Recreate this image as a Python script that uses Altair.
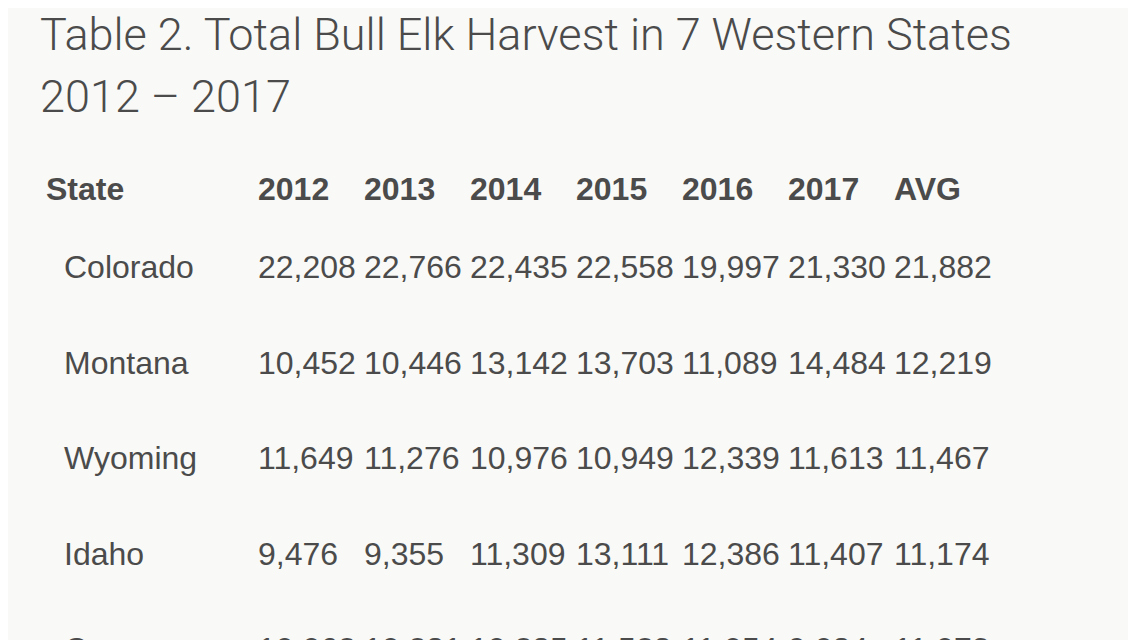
import altair as alt
import pandas as pd

title_lines = ["Table 2. Total Bull Elk Harvest in 7 Western States", "2012 – 2017"]
columns = ["2012", "2013", "2014", "2015", "2016", "2017", "AVG"]
header_first = "State"
states = ["Colorado", "Montana", "Wyoming", "Idaho", "Oregon"]
colorado = [22208, 22766, 22435, 22558, 19997, 21330, 21882]
montana = [10452, 10446, 13142, 13703, 11089, 14484, 12219]
wyoming = [11649, 11276, 10976, 10949, 12339, 11613, 11467]
idaho = [9476, 9355, 11309, 13111, 12386, 11407, 11174]
oregon = [10062, 10281, 10285, 11528, 11054, 9084, 11073]
values = [colorado, montana, wyoming, idaho, oregon]

# column order (the gap keeps the wide first column)
x_domain = [header_first, "_gap"] + columns
y_domain = [header_first] + states

header_df = pd.DataFrame({"col": [header_first] + columns,
                          "row": [header_first] * (len(columns) + 1),
                          "label": [header_first] + columns})
state_df = pd.DataFrame({"col": [header_first] * len(states), "row": states, "label": states})
rows = []
for s, vals in zip(states, values):
    for c, v in zip(columns, vals):
        rows.append({"col": c, "row": s, "value": v})
val_df = pd.DataFrame(rows)
title_df = pd.DataFrame({"label": ["\n".join(title_lines)]})

TEXT = "#4b4b4b"
FONT = "Liberation Sans"
FS = 32

xs = alt.Scale(type="point", domain=x_domain, range=[38, 886], padding=0)
ys = alt.Scale(type="point", domain=y_domain, range=[53, 530], padding=0)

def enc(base):
    return base.encode(
        x=alt.X("col:N", scale=xs, axis=None),
        y=alt.Y("row:N", scale=ys, axis=None),
    )

title = alt.Chart(title_df).mark_text(
    align="left", baseline="alphabetic", font="Roboto", fontWeight=300,
    fontSize=45, lineHeight=62, lineBreak="\n", color=TEXT,
).encode(x=alt.value(32), y=alt.value(-80), text="label:N")

header = enc(alt.Chart(header_df).mark_text(
    align="left", baseline="alphabetic", font=FONT, fontSize=FS, fontWeight="bold",
    color=TEXT, dy=17)).encode(text="label:N")

names = enc(alt.Chart(state_df).mark_text(
    align="left", baseline="alphabetic", font=FONT, fontSize=FS,
    color=TEXT, dx=18)).encode(text="label:N")

cells = enc(alt.Chart(val_df).mark_text(
    align="left", baseline="alphabetic", font=FONT, fontSize=FS,
    color=TEXT)).encode(text=alt.Text("value:Q", format=","))

chart = alt.layer(title, header, names, cells).properties(
    width=1120, height=510,
    autosize="none",
    padding={"top": 122, "left": 0, "right": 0, "bottom": 0},
    background="#f9f9f7",
).configure_view(stroke=None)

chart.save("out.html", embed_options={"renderer": "svg", "actions": False})
